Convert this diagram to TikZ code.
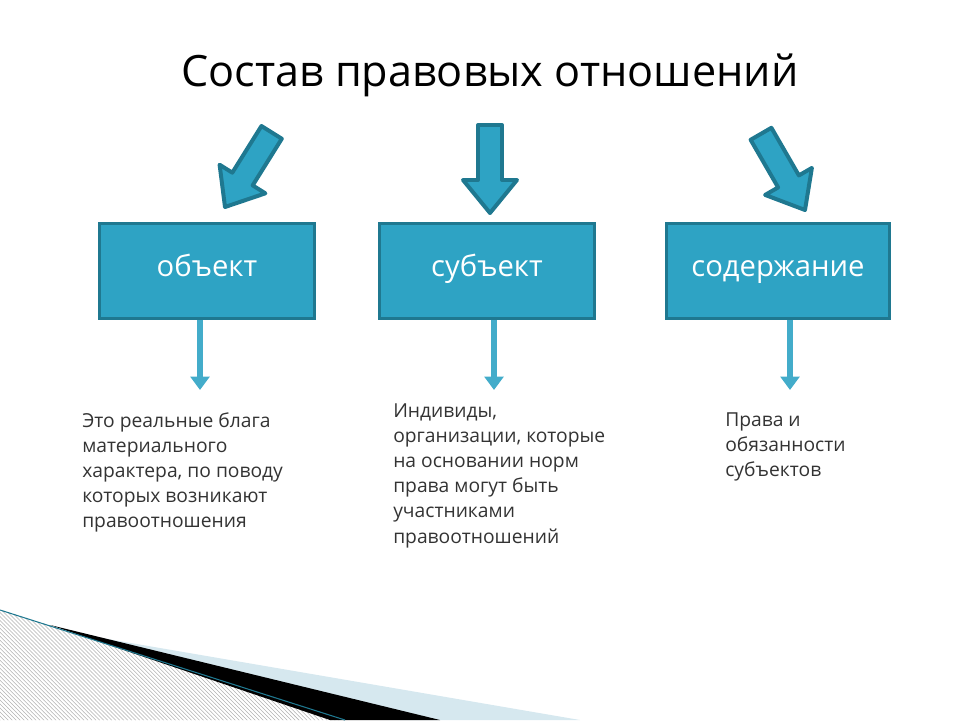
\documentclass[tikz,border=0pt]{standalone}
\usepackage{fontspec}
\setmainfont{Open Sans}
\usetikzlibrary{positioning,patterns,arrows.meta}
\definecolor{boxfill}{HTML}{2EA3C4}
\definecolor{boxline}{HTML}{1F7890}
\definecolor{paleblue}{HTML}{D6E8EF}
\tikzset{
  box/.style={draw=boxline,line width=2.5pt,fill=boxfill,text=white,minimum height=2.5cm,text height=0.95em,text depth=0.1em,font=\fontsize{22}{26}\selectfont},
  note/.style={anchor=north west,align=left,text=black!80,font=\fontsize{14.5}{19}\selectfont,inner sep=0pt},
  down/.style={boxfill!90!white,line width=4.5pt,-{Triangle[width=14pt,length=10pt]}},
  fat/.style={draw=boxline,line width=3pt,fill=boxfill,line join=round}
}
% big block arrow, tip at origin, pointing down
\newcommand\bigarrow[3]{%
\begin{scope}[shift={(#1,#2)},rotate=#3]
\draw[fat] (0,0) -- (-27,-33) -- (-12,-33) -- (-12,-88) -- (12,-88) -- (12,-33) -- (27,-33) -- cycle;
\end{scope}}
\begin{document}
\begin{tikzpicture}[x=0.02646cm,y=-0.02646cm]
\useasboundingbox (0,0) rectangle (960,720);
% decoration
\fill[pattern=north west lines,pattern color=gray!60] (0,610) -- (340,720) -- (0,720) -- cycle;
\fill[paleblue] (90,636) -- (580,720) -- (400,720) -- cycle;
\fill[black] (50,625) -- (440,720) -- (330,720) -- cycle;
\draw[boxline,thick] (0,610) -- (345,720);
% title
\node (title) at (490,75) {\fontsize{32.5}{38}\selectfont Состав правовых отношений};
% boxes
\node[box,minimum width=5.7cm] (obj) at (207,271) {объект};
\node[box,minimum width=5.7cm] (subj) at (487,271) {субъект};
\node[box,minimum width=5.9cm] (cont) at (778,271) {содержание};
% big arrows
\bigarrow{225}{207}{-32}
\bigarrow{490}{213}{0}
\bigarrow{805}{210}{30}
% notes
\coordinate (a1) at (200,390);
\coordinate (a2) at (494,390);
\coordinate (a3) at (790,390);
\draw[down] (obj.south -| a1) -- (a1);
\draw[down] (subj.south -| a2) -- (a2);
\draw[down] (cont.south -| a3) -- (a3);
\node[note] (n1) at (82,412) {Это реальные блага\\материального\\характера, по поводу\\которых возникают\\правоотношения};
\node[note] (n2) at (393,403) {Индивиды,\\организации, которые\\на основании норм\\права могут быть\\участниками\\правоотношений};
\node[note] (n3) at (725,412) {Права и\\обязанности\\субъектов};
\end{tikzpicture}
\end{document}
